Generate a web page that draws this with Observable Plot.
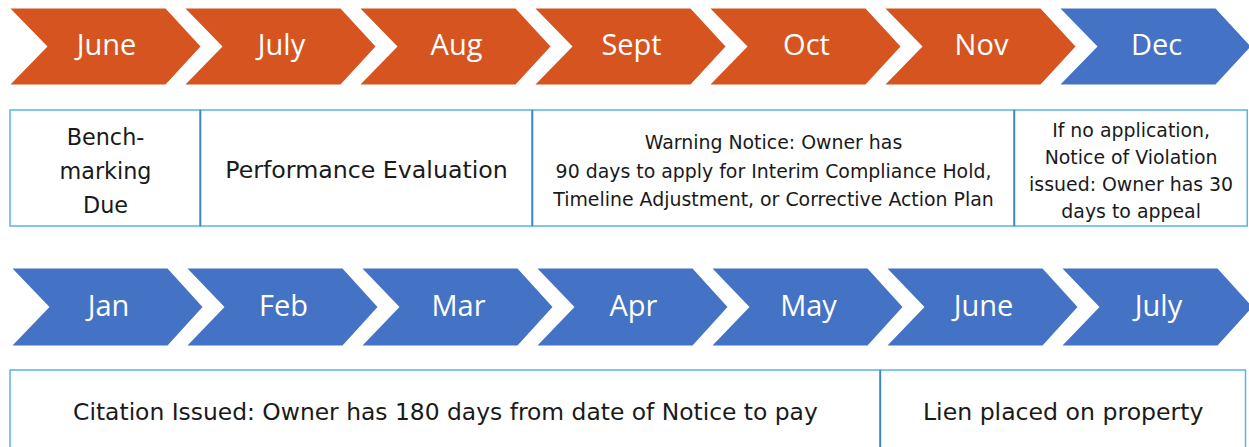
<!DOCTYPE html>
<html>
<head>
<meta charset="utf-8">
<script src="https://cdn.jsdelivr.net/npm/d3@7"></script>
<script src="https://cdn.jsdelivr.net/npm/@observablehq/plot@0.6"></script>
<style>
  html, body { margin: 0; padding: 0; background: #fff; }
  #chart svg { display: block; }
</style>
</head>
<body>
<div id="chart"></div>
<script>
// ---- Data ----
const topMonths = ["June", "July", "Aug", "Sept", "Oct", "Nov", "Dec"];
const topPhase = ["year1", "year1", "year1", "year1", "year1", "year1", "year2"];
const bottomMonths = ["Jan", "Feb", "Mar", "Apr", "May", "June", "July"];
const bottomPhase = ["year2", "year2", "year2", "year2", "year2", "year2", "year2"];

// Steps: label, start and end measured in month slots along the arrow row
const topStepLabels = [
  "Bench-\nmarking\nDue",
  "Performance Evaluation",
  "Warning Notice: Owner has\n90 days to apply for Interim Compliance Hold,\nTimeline Adjustment, or Corrective Action Plan",
  "If no application,\nNotice of Violation\nissued: Owner has 30\ndays to appeal"
];
const topStepStart = [0, 1.086, 2.983, 5.737];
const topStepEnd = [1.086, 2.983, 5.737, 7.07];
const topStepFontSize = [22.3, 23.7, 18.9, 18.9];
const topStepLineHeight = [1.52, 1.2, 1.5, 1.43];

const bottomStepLabels = [
  "Citation Issued: Owner has 180 days from date of Notice to pay",
  "Lien placed on property"
];
const bottomStepStart = [0, 4.971];
const bottomStepEnd = [4.971, 7.06];
const bottomStepFontSize = [23.4, 23.6];

const phaseDomain = ["year1", "year2"];
const phaseColors = ["#D6541F", "#4472C4"];

// ---- Layout (shape geometry in slot units; 1 slot = one chevron pitch) ----
const W = 1249, H = 447, pitch = 175;
const body = 155 / pitch, tip = 190 / pitch, notch = 37 / pitch;
const rows = [
  {months: topMonths, phase: topPhase, top: 8, bot: 84, dx: 0, labelDy: -1},
  {months: bottomMonths, phase: bottomPhase, top: 268, bot: 345, dx: 2 / pitch, labelDy: 0}
];
const boxRows = [
  {labels: topStepLabels, start: topStepStart, end: topStepEnd, fs: topStepFontSize, lh: topStepLineHeight, top: 110, bot: 226, textY: 168},
  {labels: bottomStepLabels, start: bottomStepStart, end: bottomStepEnd, fs: bottomStepFontSize, lh: [1.2, 1.2], top: 370, bot: 460, textY: 410.5}
];

// Build chevron polygons
const chevrons = [];
const monthLabels = [];
rows.forEach((r, ri) => {
  const mid = (r.top + r.bot) / 2;
  r.months.forEach((m, i) => {
    const x0 = i + r.dx;
    const id = ri + "-" + i;
    const pts = [
      [x0, r.top], [x0 + body, r.top], [x0 + tip, mid],
      [x0 + body, r.bot], [x0, r.bot], [x0 + notch, mid], [x0, r.top]
    ];
    pts.forEach(([x, y]) => chevrons.push({id, x, y, phase: r.phase[i]}));
    monthLabels.push({x: x0 + (notch + body) / 2, y: mid + r.labelDy, text: m});
  });
});

// Build step boxes
const boxes = [];
const dividers = [];
const stepLabels = [];
boxRows.forEach((b) => {
  b.labels.forEach((lab, i) => {
    boxes.push({x1: b.start[i], x2: b.end[i], y1: b.top, y2: b.bot});
    if (i > 0) dividers.push({x: b.start[i], y1: b.top, y2: b.bot});
    stepLabels.push({
      x: (b.start[i] + b.end[i]) / 2,
      y: b.textY,
      text: lab,
      fs: b.fs[i],
      lh: b.lh[i]
    });
  });
});

const fontBox = "'DejaVu Sans', 'Liberation Sans', sans-serif";
const fontMonth = "'Open Sans', 'Noto Sans', sans-serif";

const textMarks = stepLabels.map(d =>
  Plot.text([d], {
    x: "x", y: "y", text: "text",
    fontSize: d.fs, lineHeight: d.lh,
    fontFamily: fontBox, fill: "#1a1a1a", textAnchor: "middle"
  })
);

const chart = Plot.plot({
  width: W,
  height: H,
  margin: 0,
  style: {background: "#fff", overflow: "hidden"},
  x: {type: "linear", domain: [-10 / pitch, (W - 10) / pitch], range: [0, W], axis: null},
  y: {type: "linear", domain: [0, H], range: [0, H], axis: null},
  color: {type: "ordinal", domain: phaseDomain, range: phaseColors},
  marks: [
    Plot.line(chevrons, {x: "x", y: "y", z: "id", fill: "phase", stroke: null, curve: "linear"}),
    Plot.text(monthLabels, {
      x: "x", y: "y", text: "text", fill: "white",
      fontSize: 29, fontFamily: fontMonth
    }),
    Plot.rect(boxes, {x1: "x1", x2: "x2", y1: "y1", y2: "y2", fill: "white", stroke: "#5AB4E2", strokeWidth: 1.5}),
    Plot.ruleX(dividers, {x: "x", y1: "y1", y2: "y2", stroke: "#3B87CC", strokeWidth: 1.5}),
    ...textMarks
  ]
});

document.getElementById("chart").appendChild(chart);
</script>
</body>
</html>
